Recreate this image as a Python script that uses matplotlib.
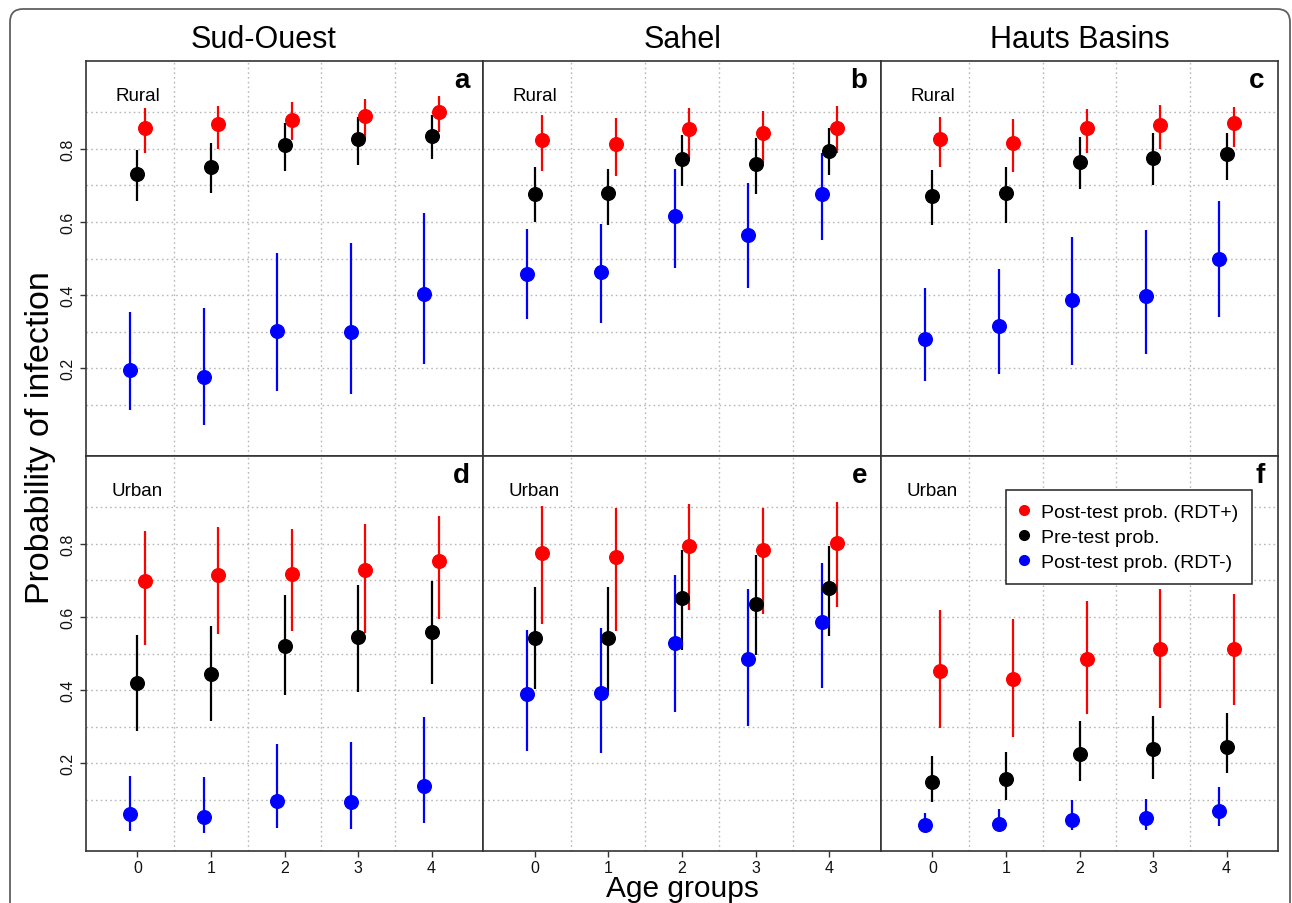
import matplotlib
matplotlib.use("Agg")
import matplotlib.pyplot as plt
from matplotlib.patches import FancyBboxPatch
from matplotlib.lines import Line2D
import numpy as np

plt.rcParams['font.family'] = ['Liberation Sans', 'DejaVu Sans']

# ---------------- data ----------------
ages = [0, 1, 2, 3, 4]
age_labels = ["0", "1", "2", "3", "4"]
regions = ["Sud-Ouest", "Sahel", "Hauts Basins"]
settings = ["Rural", "Urban"]
panel_letters = ["a", "b", "c", "d", "e", "f"]
series_labels = ["Post-test prob. (RDT+)", "Pre-test prob.", "Post-test prob. (RDT-)"]
y_ticks = [0.2, 0.4, 0.6, 0.8]

# Panel a: Sud-Ouest, Rural
a_pos_mid = [0.856, 0.868, 0.879, 0.889, 0.900]
a_pos_lo = [0.788, 0.800, 0.823, 0.827, 0.845]
a_pos_hi = [0.911, 0.918, 0.929, 0.936, 0.943]
a_pre_mid = [0.732, 0.750, 0.811, 0.827, 0.835]
a_pre_lo = [0.657, 0.679, 0.740, 0.755, 0.771]
a_pre_hi = [0.798, 0.815, 0.871, 0.886, 0.891]
a_neg_mid = [0.194, 0.176, 0.303, 0.300, 0.403]
a_neg_lo = [0.085, 0.044, 0.137, 0.129, 0.212]
a_neg_hi = [0.353, 0.364, 0.516, 0.543, 0.625]

# Panel b: Sahel, Rural
b_pos_mid = [0.825, 0.814, 0.853, 0.842, 0.858]
b_pos_lo = [0.739, 0.726, 0.773, 0.762, 0.789]
b_pos_hi = [0.891, 0.884, 0.912, 0.902, 0.918]
b_pre_mid = [0.676, 0.679, 0.773, 0.758, 0.794]
b_pre_lo = [0.600, 0.591, 0.698, 0.677, 0.729]
b_pre_hi = [0.750, 0.745, 0.838, 0.829, 0.856]
b_neg_mid = [0.458, 0.462, 0.617, 0.565, 0.675]
b_neg_lo = [0.334, 0.323, 0.475, 0.418, 0.550]
b_neg_hi = [0.580, 0.594, 0.745, 0.707, 0.789]

# Panel c: Hauts Basins, Rural
c_pos_mid = [0.827, 0.816, 0.856, 0.866, 0.870]
c_pos_lo = [0.750, 0.736, 0.788, 0.800, 0.805]
c_pos_hi = [0.888, 0.881, 0.909, 0.920, 0.915]
c_pre_mid = [0.670, 0.680, 0.763, 0.776, 0.786]
c_pre_lo = [0.591, 0.598, 0.691, 0.702, 0.715]
c_pre_hi = [0.743, 0.750, 0.832, 0.844, 0.844]
c_neg_mid = [0.279, 0.316, 0.386, 0.397, 0.500]
c_neg_lo = [0.164, 0.184, 0.209, 0.239, 0.339]
c_neg_hi = [0.418, 0.470, 0.559, 0.577, 0.656]

# Panel d: Sud-Ouest, Urban
d_pos_mid = [0.697, 0.715, 0.718, 0.727, 0.752]
d_pos_lo = [0.523, 0.552, 0.561, 0.557, 0.593]
d_pos_hi = [0.836, 0.847, 0.841, 0.855, 0.875]
d_pre_mid = [0.418, 0.443, 0.521, 0.546, 0.559]
d_pre_lo = [0.288, 0.315, 0.386, 0.395, 0.416]
d_pre_hi = [0.550, 0.575, 0.659, 0.688, 0.698]
d_neg_mid = [0.062, 0.052, 0.097, 0.094, 0.138]
d_neg_lo = [0.014, 0.009, 0.023, 0.021, 0.036]
d_neg_hi = [0.164, 0.161, 0.252, 0.257, 0.327]

# Panel e: Sahel, Urban
e_pos_mid = [0.774, 0.764, 0.794, 0.784, 0.801]
e_pos_lo = [0.582, 0.561, 0.620, 0.609, 0.627]
e_pos_hi = [0.904, 0.898, 0.909, 0.898, 0.914]
e_pre_mid = [0.543, 0.543, 0.653, 0.636, 0.679]
e_pre_lo = [0.403, 0.395, 0.509, 0.495, 0.547]
e_pre_hi = [0.682, 0.682, 0.782, 0.768, 0.794]
e_neg_mid = [0.388, 0.391, 0.529, 0.484, 0.585]
e_neg_lo = [0.234, 0.227, 0.341, 0.303, 0.406]
e_neg_hi = [0.564, 0.571, 0.714, 0.675, 0.748]

# Panel f: Hauts Basins, Urban
f_pos_mid = [0.453, 0.429, 0.484, 0.511, 0.511]
f_pos_lo = [0.295, 0.272, 0.334, 0.352, 0.359]
f_pos_hi = [0.620, 0.595, 0.644, 0.675, 0.664]
f_pre_mid = [0.150, 0.156, 0.225, 0.238, 0.245]
f_pre_lo = [0.095, 0.100, 0.152, 0.157, 0.173]
f_pre_hi = [0.220, 0.230, 0.315, 0.330, 0.336]
f_neg_mid = [0.032, 0.035, 0.045, 0.050, 0.070]
f_neg_lo = [0.012, 0.014, 0.018, 0.018, 0.027]
f_neg_hi = [0.064, 0.075, 0.100, 0.103, 0.134]

panels = [
    (a_pos_mid, a_pos_lo, a_pos_hi, a_pre_mid, a_pre_lo, a_pre_hi, a_neg_mid, a_neg_lo, a_neg_hi),
    (b_pos_mid, b_pos_lo, b_pos_hi, b_pre_mid, b_pre_lo, b_pre_hi, b_neg_mid, b_neg_lo, b_neg_hi),
    (c_pos_mid, c_pos_lo, c_pos_hi, c_pre_mid, c_pre_lo, c_pre_hi, c_neg_mid, c_neg_lo, c_neg_hi),
    (d_pos_mid, d_pos_lo, d_pos_hi, d_pre_mid, d_pre_lo, d_pre_hi, d_neg_mid, d_neg_lo, d_neg_hi),
    (e_pos_mid, e_pos_lo, e_pos_hi, e_pre_mid, e_pre_lo, e_pre_hi, e_neg_mid, e_neg_lo, e_neg_hi),
    (f_pos_mid, f_pos_lo, f_pos_hi, f_pre_mid, f_pre_lo, f_pre_hi, f_neg_mid, f_neg_lo, f_neg_hi),
]

# ---------------- figure ----------------
W, H = 1292, 904
fig = plt.figure(figsize=(W / 100, H / 100), dpi=100)

# outer rounded frame
frame = FancyBboxPatch((0.10, -0.5), 12.80, 9.04 - 0.10 + 0.5,
                       boxstyle="round,pad=0,rounding_size=0.13",
                       transform=fig.dpi_scale_trans, fill=False,
                       edgecolor="#606060", linewidth=1.3, zorder=0)
fig.patches.append(frame)

col_x = [86, 483, 881, 1278]
row_y = [62, 457, 852]
colors = ["#FF0000", "#000000", "#0000FF"]
offsets = [0.1, 0.0, -0.1]
axis_col = "#333333"

axes = []
for r in range(2):
    for c in range(3):
        left = col_x[c] / W
        width = (col_x[c + 1] - col_x[c]) / W
        bottom = 1 - row_y[r + 1] / H
        height = (row_y[r + 1] - row_y[r]) / H
        ax = fig.add_axes([left, bottom, width, height])
        axes.append(ax)
        idx = r * 3 + c
        data = panels[idx]
        ax.set_xlim(-0.7, 4.7)
        ax.set_ylim(-0.04, 1.04)
        # grid
        for gy in np.arange(0.1, 0.95, 0.1):
            ax.axhline(gy, color="#b8b8b8", lw=1.0, ls=(0, (1.2, 2.2)), zorder=1)
        for gx in [0.5, 1.5, 2.5, 3.5]:
            ax.axvline(gx, color="#b8b8b8", lw=1.0, ls=(0, (1.2, 2.2)), zorder=1)
        x = np.array(ages, dtype=float)
        for s in [2, 1, 0]:
            mid = np.array(data[3 * s])
            lo = np.array(data[3 * s + 1])
            hi = np.array(data[3 * s + 2])
            xs = x + offsets[s]
            ax.vlines(xs, lo, hi, color=colors[s], lw=1.6, zorder=2)
            ax.plot(xs, mid, "o", color=colors[s], markersize=9.8, zorder=3)
        for sp in ax.spines.values():
            sp.set_color(axis_col)
            sp.set_linewidth(1.2)
        ax.tick_params(axis="both", length=4.5, width=1.0, color=axis_col,
                       labelsize=11.5, labelcolor="#111111")
        if c == 0:
            ax.set_yticks(y_ticks)
            ax.set_yticklabels([f"{v:.1f}" for v in y_ticks], rotation=90, va="center")
            ax.tick_params(axis="y", pad=3)
        else:
            ax.set_yticks([])
        if r == 1:
            ax.set_xticks(ages)
            ax.set_xticklabels(age_labels)
            ax.tick_params(axis="x", pad=2)
        else:
            ax.set_xticks([])
        ax.text(0, 0.945, settings[r], ha="center", va="center", fontsize=13.5)
        ax.text(0.966, 0.952, panel_letters[idx], transform=ax.transAxes,
                ha="right", va="center", fontsize=20, fontweight="bold")

# column titles
title_x = [263.5, 683, 1080]
for t, xp in zip(regions, title_x):
    fig.text(xp / W, 1 - 40 / H, t, ha="center", va="center", fontsize=22)

fig.text(41 / W, 1 - 438 / H, "Probability of infection", rotation=90,
         ha="center", va="center", fontsize=24.5)
fig.text(682 / W, 1 - 897 / H, "Age groups", ha="center", va="baseline", fontsize=21.5)

# legend in panel f
axf = axes[5]
leg_handles = [Line2D([], [], marker="o", ls="", color=colors[i], markersize=7)
               for i in range(3)]
leg = axf.legend(leg_handles, series_labels, loc="upper left",
                 bbox_to_anchor=(0.315, 0.915), fontsize=14, frameon=True,
                 fancybox=False, edgecolor="#222222", framealpha=1,
                 borderpad=0.7, labelspacing=0.38, handlelength=0.4,
                 handletextpad=0.72, borderaxespad=0)
leg.get_frame().set_linewidth(1.1)

fig.savefig("out.png", dpi=100)
